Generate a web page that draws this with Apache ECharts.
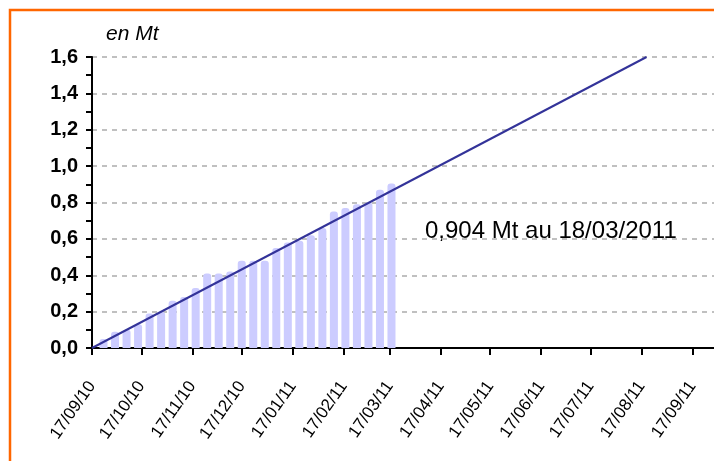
<!DOCTYPE html>
<html>
<head>
<meta charset="utf-8">
<script src="https://cdn.jsdelivr.net/npm/echarts@6/dist/echarts.min.js"></script>
<style>
  html, body { margin: 0; padding: 0; background: #fff; }
  #main { width: 714px; height: 461px; }
</style>
</head>
<body>
<div id="main"></div>
<script>
// axis range (days), ticks on the 17th of each month
var startDate = "2010-09-17";
var endDate = "2011-09-30";

// weekly cumulative tonnage (Mt), one bar each Friday
var barDates = [
  "2010-09-24", "2010-10-01", "2010-10-08", "2010-10-15", "2010-10-22", "2010-10-29",
  "2010-11-05", "2010-11-12", "2010-11-19", "2010-11-26", "2010-12-03", "2010-12-10",
  "2010-12-17", "2010-12-24", "2010-12-31", "2011-01-07", "2011-01-14", "2011-01-21",
  "2011-01-28", "2011-02-04", "2011-02-11", "2011-02-18", "2011-02-25", "2011-03-04",
  "2011-03-11", "2011-03-18"
];
var barValues = [
  0.05, 0.09, 0.10, 0.13, 0.19, 0.20,
  0.26, 0.28, 0.33, 0.41, 0.41, 0.42,
  0.48, 0.48, 0.48, 0.55, 0.58, 0.59,
  0.62, 0.66, 0.75, 0.77, 0.79, 0.80,
  0.87, 0.904
];

// objective line
var targetDates = ["2010-09-17", "2011-08-20"];
var targetValues = [0, 1.6];

var yTicks = [0, 0.2, 0.4, 0.6, 0.8, 1.0, 1.2, 1.4, 1.6];

// every day of the axis as a category
var days = [];
var d = new Date(startDate + "T00:00:00Z");
var last = new Date(endDate + "T00:00:00Z");
while (d <= last) {
  days.push(d.toISOString().slice(0, 10));
  d = new Date(d.getTime() + 86400000);
}

function isTickDay(idx, val) {
  return val.slice(8, 10) === "17";
}

var font = "'Liberation Sans', Arial, sans-serif";
var chart = echarts.init(document.getElementById("main"));

chart.setOption({
  animation: false,
  grid: { left: 92, right: 0, top: 57, bottom: 113 },
  xAxis: {
    type: "category",
    data: days,
    boundaryGap: false,
    axisLine: { lineStyle: { color: "#000", width: 2 } },
    axisTick: { interval: isTickDay, length: 7, lineStyle: { color: "#000", width: 2 } },
    axisLabel: {
      interval: isTickDay,
      rotate: 55,
      margin: 35,
      color: "#000",
      fontFamily: font,
      fontSize: 17,
      formatter: function (v) {
        return v.slice(8, 10) + "/" + v.slice(5, 7) + "/" + v.slice(2, 4);
      }
    },
    splitLine: { show: false }
  },
  yAxis: {
    type: "value",
    min: yTicks[0],
    max: yTicks[yTicks.length - 1],
    interval: 0.2,
    name: "en Mt",
    nameLocation: "end",
    nameGap: 12,
    nameTextStyle: {
      fontFamily: font, fontStyle: "italic", fontSize: 21, color: "#000",
      align: "left", padding: [0, 0, 0, 14]
    },
    axisLine: { show: true, lineStyle: { color: "#000", width: 2 } },
    axisTick: { show: true, length: 6, lineStyle: { color: "#000", width: 2 } },
    minorTick: { show: true, splitNumber: 2, length: 6, lineStyle: { color: "#000", width: 2 } },
    axisLabel: {
      color: "#000", fontFamily: font, fontWeight: "bold", fontSize: 20, margin: 14,
      formatter: function (v) { return v.toFixed(1).replace(".", ","); }
    },
    splitLine: { show: true, lineStyle: { color: "#c0c0c0", width: 2, type: [5, 5] } }
  },
  series: [
    {
      type: "bar",
      data: barDates.map(function (dt, i) { return [dt, barValues[i]]; }),
      barWidth: 8,
      itemStyle: { color: "#ccccff", borderRadius: [3, 3, 0, 0] },
      z: 2
    },
    {
      type: "line",
      data: targetDates.map(function (dt, i) { return [dt, targetValues[i]]; }),
      symbol: "none",
      lineStyle: { color: "#333399", width: 2 },
      z: 3
    }
  ],
  graphic: [
    {
      type: "rect",
      shape: { x: 10, y: 10, width: 900, height: 600 },
      style: { fill: null, stroke: "#ff6600", lineWidth: 2.5 },
      silent: true
    },
    {
      type: "text",
      left: 425,
      top: 219,
      style: { text: "0,904 Mt au 18/03/2011", font: "24px " + font, fill: "#000" }
    }
  ]
});
</script>
</body>
</html>
